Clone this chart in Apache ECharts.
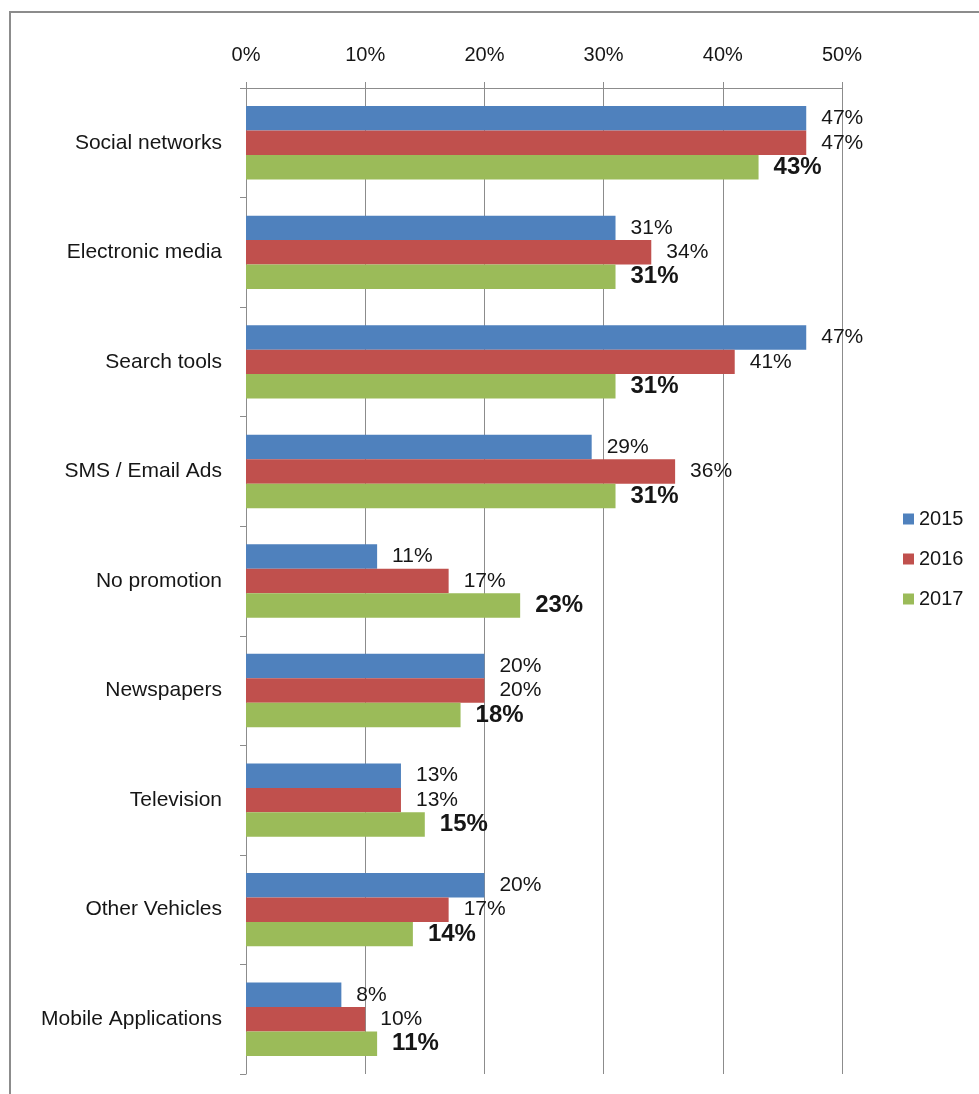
<!DOCTYPE html>
<html>
<head>
<meta charset="utf-8">
<title>Promotion channels 2015–2017</title>
<script src="https://cdn.jsdelivr.net/npm/echarts@6/dist/echarts.min.js"></script>
<style>
  html, body { margin: 0; padding: 0; background: #ffffff; }
  #chart { width: 979px; height: 1094px; }
</style>
</head>
<body>
<div id="chart"></div>
<script>
// Promotion channels, share of respondents (%)
const categories = [
  'Social networks',
  'Electronic media',
  'Search tools',
  'SMS / Email Ads',
  'No promotion',
  'Newspapers',
  'Television',
  'Other Vehicles',
  'Mobile Applications'
];
const values2015 = [47, 31, 47, 29, 11, 20, 13, 20, 8];
const values2016 = [47, 34, 41, 36, 17, 20, 13, 17, 10];
const values2017 = [43, 31, 31, 31, 23, 18, 15, 14, 11];
const seriesNames = ['2015', '2016', '2017'];
const xTicks = { min: 0, max: 50, step: 10 };

const FONT = 'Liberation Sans, Arial, sans-serif';
const GRAY = '#8c8c8c';
const TEXT = '#161616';
const colors = ['#4F81BD', '#C0504D', '#9BBB59'];

function barSeries(name, data, color, bold) {
  return {
    name: name,
    type: 'bar',
    data: data,
    barGap: '0%',
    barCategoryGap: '33%',
    itemStyle: { color: color },
    label: {
      show: true,
      position: 'right',
      distance: 15,
      formatter: '{c}%',
      fontFamily: FONT,
      fontSize: bold ? 24 : 21,
      fontWeight: bold ? 'bold' : 'normal',
      color: TEXT
    }
  };
}

const chart = echarts.init(document.getElementById('chart'), null, { renderer: 'canvas' });
chart.setOption({
  animation: false,
  backgroundColor: '#ffffff',
  graphic: [{
    type: 'rect',
    shape: { x: 10, y: 12, width: 1000, height: 1100 },
    style: { fill: 'none', stroke: GRAY, lineWidth: 2 },
    silent: true,
    z: -1
  }],
  grid: { left: 246, top: 88, right: 137, bottom: 20, containLabel: false },
  legend: {
    orient: 'vertical',
    left: 898,
    top: 504,
    itemWidth: 11,
    itemHeight: 11,
    itemGap: 20,
    icon: 'rect',
    textStyle: { fontFamily: FONT, fontSize: 20, color: TEXT },
    data: seriesNames
  },
  xAxis: {
    type: 'value',
    position: 'top',
    min: xTicks.min,
    max: xTicks.max,
    interval: xTicks.step,
    axisLine: { show: true, lineStyle: { color: GRAY, width: 1 } },
    axisTick: { show: true, length: 6, lineStyle: { color: GRAY } },
    splitLine: { show: true, lineStyle: { color: GRAY, width: 1 } },
    axisLabel: {
      formatter: '{value}%',
      fontFamily: FONT,
      fontSize: 20,
      color: TEXT,
      margin: 23
    }
  },
  yAxis: {
    type: 'category',
    inverse: true,
    data: categories,
    axisLine: { show: true, lineStyle: { color: GRAY, width: 1 } },
    axisTick: { show: true, length: 6, lineStyle: { color: GRAY } },
    axisLabel: {
      fontFamily: FONT,
      fontSize: 21,
      color: TEXT,
      margin: 24
    }
  },
  series: [
    barSeries(seriesNames[0], values2015, colors[0], false),
    barSeries(seriesNames[1], values2016, colors[1], false),
    barSeries(seriesNames[2], values2017, colors[2], true)
  ]
});
</script>
</body>
</html>
